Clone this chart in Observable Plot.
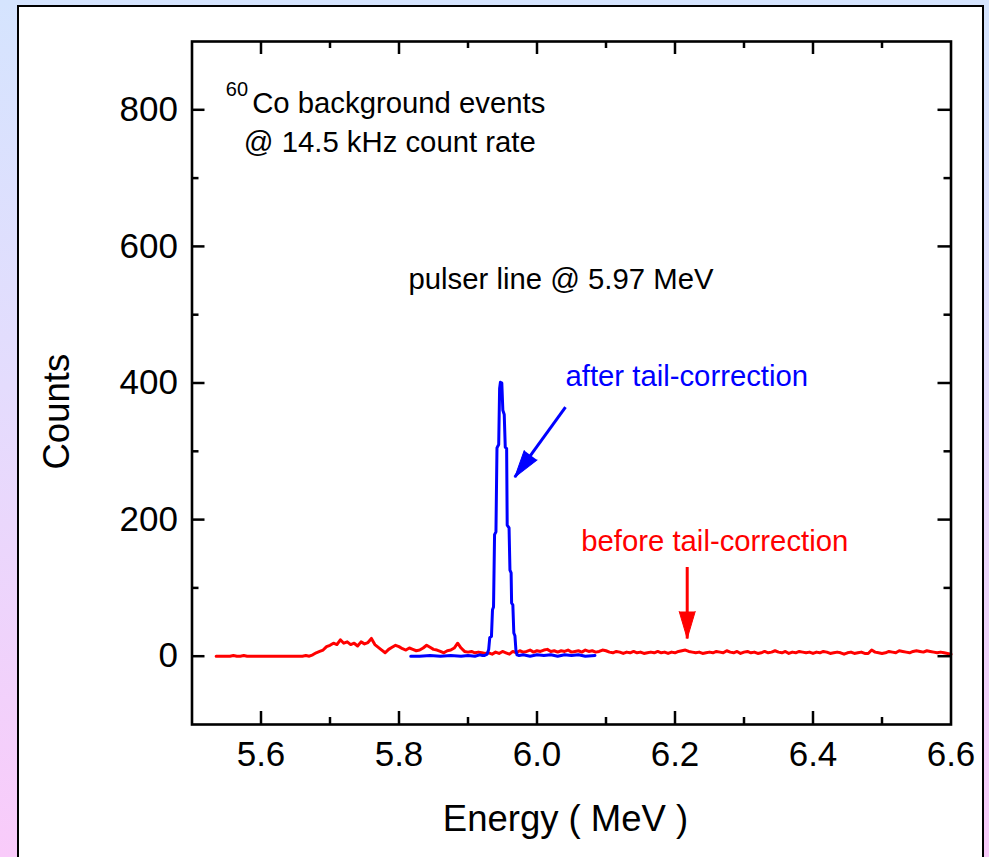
<!DOCTYPE html>
<html><head><meta charset="utf-8">
<script src="https://cdn.jsdelivr.net/npm/d3@7"></script>
<script src="https://cdn.jsdelivr.net/npm/@observablehq/plot@0.6"></script>
<style>
html,body{margin:0;padding:0;}
body{width:989px;height:857px;overflow:hidden;position:relative;background:linear-gradient(to bottom,#d5e4fe 0%,#e4dcfd 45%,#f9cbfa 100%);font-family:"Liberation Sans",Arial,sans-serif;}
#panel{position:absolute;left:17px;top:5px;width:963px;height:900px;background:#fff;border:2px solid #000;}
#chart{position:absolute;left:0;top:0;}
</style></head><body><div id="panel"></div><div id="chart"></div>
<script>
// ---- data ----
const xMajorTicks = [5.6, 5.8, 6.0, 6.2, 6.4];
const xMinorTicks = [5.7, 5.9, 6.1, 6.3, 6.5];
const xLabelTicks = [5.6, 5.8, 6.0, 6.2, 6.4, 6.6];
const xTickLabels = ["5.6", "5.8", "6.0", "6.2", "6.4", "6.6"];
const yMajorTicks = [0, 200, 400, 600, 800];
const yMinorTicks = [100, 300, 500, 700];
const yTickLabels = ["0", "200", "400", "600", "800"];

// red spectrum (before tail-correction): channel grid start/step, counts
const redStart = 5.535, redStep = 0.005;
const redCounts = [
  0,0,0,0,0,1,0,0,1,0,0,0,0,0,0,0,0,0,0,0,0,0,0,0,0,0,1,0,
  2,5,7,9,14,16,19,17,24,19, 21,17,19,15,21,18,20,26,17,13,
  9,5,10,13,16,14,11,9,12,10, 8,9,12,16,13,10,9,7,5,8,
  9,12,19,12,7,6,7,5,6,5, 4,5,3,6,4,7,5,3,7,5,
  8,6,7,9,6,8,7,9,10,7, 8,
  6,8,7,9,6,7,8,6,9,7,8,6,7,9,8,
  6,5,7,6,4,6,5,7,5,6,4,5,6,5,7,
  5,6,4,6,5,7,8,9,7,6,5,6,4,5,6,
  5,7,6,5,8,6,5,7,4,6,7,5,6,4,5,
  7,5,6,8,6,5,7,4,6,5,7,6,5,6,4,
  6,5,7,6,4,5,6,5,3,5,6,4,5,6,4,
  4,9,6,5,4,5,7,6,5,8,7,6,5,7,8,
  7,6,8,7,6,5,6,5,4,3
];

// blue spectrum (after tail-correction)
const blueEnergy = [5.817,5.830,5.845,5.860,5.875,5.890,5.900,5.910,5.917,5.921,
  5.9240,5.9278,5.9300,5.9315,5.9340,5.9355,5.9370,5.9385,5.9405,5.9420,5.9445,5.9458,5.9470,5.9480,5.9490,
  5.9505,5.9525,5.9540,5.9560,5.9568,5.9595,5.9608,5.9625,5.9632,5.9650,5.9664,5.9680,5.9695,5.9710,
  5.974,5.980,5.990,6.000,6.010,6.020,6.030,6.040,6.050,6.060,6.070,6.084];
const blueCounts = [0,0,1,0,1,0,1,0,2,1,
  1,3,10,27,29,68,72,178,182,305,310,392,401,396,400,
  360,354,306,304,192,188,126,122,78,75,34,30,8,2,
  1,2,0,2,1,2,0,2,1,2,0,1];

// annotations
const notes = [
  {E: 5.5490, c: 820.0, text: "60", size: 20, color: "#000"},
  {E: 5.5872, c: 795.6, text: "Co background events", size: 29.3, color: "#000"},
  {E: 5.5751, c: 737.8, text: "@ 14.5 kHz count rate", size: 29.3, color: "#000"},
  {E: 5.8138, c: 538.2, text: "pulser line @ 5.97 MeV", size: 29.3, color: "#000"},
  {E: 6.0413, c: 396.3, text: "after tail-correction", size: 29.3, color: "#0000ff"},
  {E: 6.0641, c: 154.0, text: "before tail-correction", size: 29.3, color: "#ff0000"}
];
const arrows = [
  {x1: 6.0413, y1: 364.6, x2: 5.9678, y2: 262.2, rot: 216, color: "#0000ff"},
  {x1: 6.2177, y1: 130.6, x2: 6.2177, y2: 25.9, rot: 180, color: "#ff0000"}
];
const axisTitles = [
  {x: 5.305, y: 358, text: "Counts", rotate: -90}
];

// ---- build ----
const red = redCounts.map((c, i) => ({E: redStart + i * redStep, c}));
const blue = blueEnergy.map((E, i) => ({E, c: blueCounts[i]}));

const W = 989, H = 857;
const fL = 191.5, fR = 950.5, fT = 41, fB = 724;
const xDom = [5.5, 6.6], yDom = [-100, 900];
const kx = (fR - fL) / (xDom[1] - xDom[0]);   // px per MeV
const ky = (fB - fT) / (yDom[1] - yDom[0]);   // px per count
const tickW = 2.5, major = 13, minor = 7;
const tk = (px) => ({x: px / kx, y: px / ky});

const plot = Plot.plot({
  width: W, height: H,
  marginLeft: fL, marginRight: W - fR, marginTop: fT, marginBottom: H - fB,
  x: {domain: xDom, axis: null},
  y: {domain: yDom, axis: null},
  style: {background: "transparent", fontFamily: "'Liberation Sans', Arial, sans-serif", color: "#000", overflow: "visible"},
  marks: [
    Plot.line(red, {x: "E", y: "c", stroke: "#ff0000", strokeWidth: 3}),
    Plot.line(blue, {x: "E", y: "c", stroke: "#0000ff", strokeWidth: 3}),
    Plot.frame({stroke: "#000", strokeWidth: 2.6}),
    // ticks (inward) on all four sides
    Plot.ruleX(xMajorTicks, {x: d => d, y1: yDom[0], y2: yDom[0] + tk(major).y, stroke: "#000", strokeWidth: tickW}),
    Plot.ruleX(xMinorTicks, {x: d => d, y1: yDom[0], y2: yDom[0] + tk(minor).y, stroke: "#000", strokeWidth: tickW}),
    Plot.ruleX(xMajorTicks, {x: d => d, y1: yDom[1], y2: yDom[1] - tk(major).y, stroke: "#000", strokeWidth: tickW}),
    Plot.ruleX(xMinorTicks, {x: d => d, y1: yDom[1], y2: yDom[1] - tk(minor).y, stroke: "#000", strokeWidth: tickW}),
    Plot.ruleY(yMajorTicks, {y: d => d, x1: xDom[0], x2: xDom[0] + tk(major).x, stroke: "#000", strokeWidth: tickW}),
    Plot.ruleY(yMinorTicks, {y: d => d, x1: xDom[0], x2: xDom[0] + tk(minor).x, stroke: "#000", strokeWidth: tickW}),
    Plot.ruleY(yMajorTicks, {y: d => d, x1: xDom[1], x2: xDom[1] - tk(major).x, stroke: "#000", strokeWidth: tickW}),
    Plot.ruleY(yMinorTicks, {y: d => d, x1: xDom[1], x2: xDom[1] - tk(minor).x, stroke: "#000", strokeWidth: tickW}),
    // tick labels
    Plot.text(xLabelTicks, {x: d => d, text: xTickLabels, frameAnchor: "bottom", dy: 30, lineAnchor: "middle", fontSize: 35, fill: "#000"}),
    Plot.text(yMajorTicks, {y: d => d, text: yTickLabels, frameAnchor: "left", dx: -14, textAnchor: "end", lineAnchor: "middle", fontSize: 35, fill: "#000"}),
    // axis titles
    Plot.text(["Energy ( MeV )"], {frameAnchor: "bottom", dx: -6, dy: 95, lineAnchor: "middle", fontSize: 36.5, fill: "#000"}),
    Plot.text(axisTitles, {x: "x", y: "y", text: "text", rotate: "rotate", lineAnchor: "middle", fontSize: 36.5, fill: "#000"}),
    // annotations
    Plot.text(notes, {x: "E", y: "c", text: "text", fontSize: "size", fill: "color", textAnchor: "start", lineAnchor: "bottom"}),
    Plot.link(arrows, {x1: "x1", y1: "y1", x2: "x2", y2: "y2", stroke: "color", strokeWidth: 3}),
    Plot.vector(arrows, {x: "x2", y: "y2", rotate: "rot", length: 27, r: 8, shape: "spike", anchor: "end", fill: "color", stroke: "color", strokeWidth: 1})
  ]
});
document.getElementById("chart").appendChild(plot);
</script></body></html>
